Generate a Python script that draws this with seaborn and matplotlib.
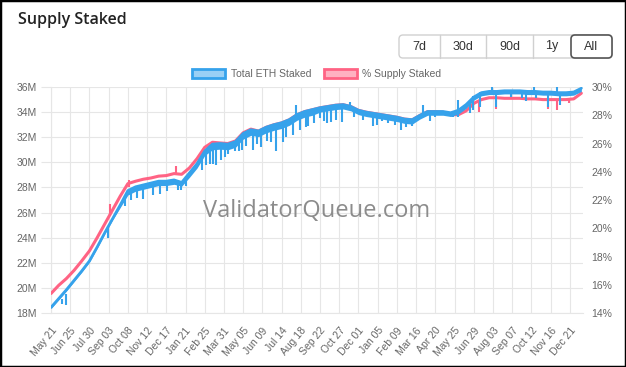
import pandas as pd
import matplotlib.pyplot as plt
import seaborn as sns
from matplotlib.patches import Patch, Rectangle, FancyBboxPatch
from matplotlib.transforms import IdentityTransform

# Colours used by the original chart
BLUE = '#36A2EB'
PINK = '#FF6384'
GRID = '#e6e6e6'
TEXT = '#666666'

# Sampled every 14 days starting 2023-05-21
start_date = '2023-05-21'
# top of the blue band (millions of ETH)
staked_m = [18.45, 19.15, 19.85, 20.6, 21.35, 22.15, 23.25, 24.4, 25.5, 26.6,
            27.75, 28.05, 28.2, 28.35, 28.5, 28.5, 28.6, 28.4, 29.15, 29.9,
            30.9, 31.45, 31.5, 31.45, 31.65, 32.3, 32.6, 32.5, 32.8, 33.0,
            33.15, 33.4, 33.8, 34.05, 34.2, 34.35, 34.45, 34.55, 34.6, 34.45,
            34.15, 34.0, 33.9, 33.8, 33.7, 33.6, 33.45, 33.4, 33.75, 34.05,
            34.05, 34.05, 33.95, 34.15, 34.6, 35.2, 35.55, 35.65, 35.65, 35.7,
            35.7, 35.7, 35.65, 35.65, 35.6, 35.6, 35.55, 35.55, 35.6, 35.9]
# bottom of the dense daily noise band
staked_low = [18.35, 19.05, 19.75, 20.5, 21.25, 22.05, 23.15, 24.3, 25.4, 26.4,
              27.4, 27.7, 27.85, 28.0, 28.15, 28.15, 28.25, 28.1, 28.8, 29.55,
              30.55, 31.0, 31.05, 31.0, 31.2, 31.85, 32.15, 32.05, 32.35, 32.55,
              32.7, 32.95, 33.35, 33.6, 33.75, 34.0, 34.1, 34.2, 34.25, 34.1,
              33.8, 33.65, 33.55, 33.45, 33.35, 33.25, 33.1, 33.05, 33.45, 33.75,
              33.75, 33.75, 33.65, 33.85, 34.3, 34.95, 35.3, 35.4, 35.4, 35.45,
              35.45, 35.45, 35.4, 35.4, 35.35, 35.35, 35.3, 35.3, 35.35, 35.65]
supply_pct = [15.38, 15.96, 16.44, 17.02, 17.69, 18.4, 19.33, 20.31, 21.29, 22.27,
              23.16, 23.33, 23.47, 23.56, 23.69, 23.73, 23.87, 23.82, 24.27, 24.93,
              25.73, 26.09, 26.04, 26.0, 26.18, 26.76, 27.02, 26.88, 27.15, 27.33,
              27.46, 27.68, 28.04, 28.26, 28.39, 28.53, 28.62, 28.71, 28.75, 28.62,
              28.35, 28.22, 28.13, 28.04, 27.95, 27.86, 27.73, 27.68, 27.99, 28.26,
              28.26, 28.22, 28.04, 28.04, 28.31, 28.84, 29.11, 29.24, 29.24, 29.2,
              29.2, 29.2, 29.16, 29.16, 29.11, 29.11, 29.11, 29.11, 29.16, 29.56]

# Short daily spikes (date, low, high) seen in the picture
blue_spike_dates = ['2023-06-10', '2023-06-17', '2023-09-01', '2023-10-03', '2023-10-14',
                    '2023-10-25', '2023-11-04', '2023-11-23', '2023-12-05', '2023-12-19',
                    '2024-01-08', '2024-01-13', '2024-01-22', '2024-02-20', '2024-02-28',
                    '2024-03-06', '2024-03-11', '2024-03-16', '2024-03-26', '2024-04-02',
                    '2024-04-08', '2024-04-20', '2024-04-28', '2024-05-03', '2024-05-11',
                    '2024-05-23', '2024-05-30', '2024-06-07', '2024-06-18', '2024-06-25',
                    '2024-07-04', '2024-07-16', '2024-07-22', '2024-08-03', '2024-08-10',
                    '2024-08-17', '2024-08-27', '2024-09-01', '2024-09-11', '2024-09-22',
                    '2024-09-30', '2024-10-04', '2024-10-12', '2024-10-22', '2024-11-01',
                    '2024-11-15', '2024-11-22', '2024-12-10', '2024-12-28', '2025-01-03',
                    '2025-01-12', '2025-01-24', '2025-02-05', '2025-02-17', '2025-02-26',
                    '2025-03-08', '2025-03-28', '2025-04-10', '2025-04-20', '2025-05-22',
                    '2025-05-31', '2025-06-01', '2025-06-22', '2025-06-28', '2025-07-10',
                    '2025-08-01', '2025-08-09', '2025-09-05', '2025-09-25', '2025-10-02',
                    '2025-10-17', '2025-10-21', '2025-11-11', '2025-11-28', '2025-12-03']
blue_spike_low = [18.7, 18.6, 24.0, 26.5, 27.0, 27.2, 27.1, 27.4, 27.5, 27.7,
                  27.8, 27.8, 28.1, 29.4, 29.8, 29.9, 29.9, 29.8, 30.2, 30.4,
                  30.7, 30.9, 30.9, 31.0, 31.3, 31.0, 31.5, 31.2, 31.7, 31.6,
                  30.9, 31.6, 32.0, 32.2, 33.7, 32.6, 32.8, 32.9, 33.1, 33.5,
                  33.3, 33.15, 33.2, 33.4, 33.25, 34.3, 33.6, 33.4, 32.9, 33.0,
                  33.3, 33.15, 33.0, 32.6, 32.8, 32.9, 33.7, 33.3, 33.6, 33.6,
                  33.65, 34.1, 33.9, 34.2, 34.4, 35.6, 34.4, 35.2, 35.1, 34.9,
                  35.65, 35.1, 34.4, 35.55, 34.6]
blue_spike_high = [19.1, 19.5, 24.9, 27.4, 27.9, 28.1, 28.2, 28.4, 28.5, 28.5,
                   28.6, 28.5, 28.9, 30.5, 31.0, 31.4, 31.4, 31.5, 31.5, 31.5,
                   31.5, 31.6, 31.9, 32.1, 32.4, 32.6, 32.5, 32.5, 32.7, 32.8,
                   33.0, 33.1, 33.2, 33.6, 34.6, 33.9, 34.0, 34.1, 34.2, 34.3,
                   34.4, 34.4, 34.5, 34.5, 34.6, 34.8, 34.3, 34.0, 33.85, 33.8,
                   33.75, 33.7, 33.65, 33.5, 33.45, 33.4, 34.6, 34.05, 34.05, 34.0,
                   34.1, 35.0, 35.0, 35.3, 35.6, 36.1, 35.65, 35.7, 35.7, 35.7,
                   36.2, 35.65, 35.6, 36.1, 35.55]
pink_spike_dates = ['2023-09-05', '2023-10-10', '2024-01-04', '2025-07-08',
                    '2025-08-09', '2025-11-11', '2025-11-28', '2025-12-20']
pink_spike_low = [20.9, 22.9, 23.8, 28.2, 28.45, 28.45, 28.4, 28.9]
pink_spike_high = [21.7, 23.4, 24.4, 29.1, 29.25, 29.1, 29.1, 29.2]

left_ticks = [18, 20, 22, 24, 26, 28, 30, 32, 34, 36]
right_ticks = [14, 16, 18, 20, 22, 24, 26, 28, 30]
btn_labels = ['7d', '30d', '90d', '1y', 'All']

dates = pd.date_range(start_date, periods=len(staked_m), freq='14D')
df = pd.DataFrame({'date': dates, 'staked': staked_m, 'low': staked_low, 'pct': supply_pct})
tick_dates = pd.date_range(start_date, periods=28, freq='35D')

sns.set_style('white')
plt.rcParams['font.family'] = ['Liberation Sans', 'DejaVu Sans']

fig = plt.figure(figsize=(6.26, 3.67), dpi=100)
ax = fig.add_axes([0.0815, 0.1471, 0.8498, 0.6158])
ax2 = ax.twinx()   # % supply axis
ax3 = ax.twinx()   # blue series drawn on top of the pink one

sns.lineplot(data=df, x='date', y='pct', ax=ax2, color=PINK, lw=2.2, estimator=None)
ax2.vlines(pd.to_datetime(pink_spike_dates), pink_spike_low, pink_spike_high, color=PINK, lw=1.5)
ax3.fill_between(df['date'], df['low'], df['staked'], color=BLUE, lw=0)
sns.lineplot(data=df, x='date', y='staked', ax=ax3, color=BLUE, lw=2.0, estimator=None)
ax3.vlines(pd.to_datetime(blue_spike_dates), blue_spike_low, blue_spike_high, color=BLUE, lw=1.5)

ax.set_xlim(pd.Timestamp('2023-05-21'), pd.Timestamp('2026-01-14'))
ax.set_ylim(18, 36)
ax3.set_ylim(18, 36)
ax2.set_ylim(14, 30)
ax3.axis('off')

ax.set_yticks(left_ticks)
ax.set_yticklabels([f'{v}M' for v in left_ticks])
ax2.set_yticks(right_ticks)
ax2.set_yticklabels([f'{v}%' for v in right_ticks])
ax.set_xticks(tick_dates)
ax.set_xticklabels([d.strftime('%b %d') for d in tick_dates], rotation=50,
                   ha='right', rotation_mode='anchor')
for a in (ax, ax2):
    a.set_xlabel('')
    a.set_ylabel('')

ax.grid(True, color=GRID, lw=0.8)
ax.tick_params(axis='both', length=7, color=GRID, labelcolor=TEXT, labelsize=7.5, pad=3)
ax.tick_params(axis='x', pad=2)
ax2.tick_params(axis='y', length=0, labelcolor=TEXT, labelsize=7.5, pad=6)
for s in ['top', 'right']:
    ax.spines[s].set_visible(False)
for s in ['left', 'bottom']:
    ax.spines[s].set_color(GRID)
for s in ax2.spines.values():
    s.set_visible(False)

# watermark
ax.text(0.5, 0.45, 'ValidatorQueue.com', transform=ax.transAxes, ha='center', va='center',
        fontsize=17, color='#8c8c8c', family='Open Sans')

# legend
handles = [Patch(facecolor='#9AD0F5', edgecolor=BLUE, lw=2, label='Total ETH Staked'),
           Patch(facecolor='#FFB1C1', edgecolor=PINK, lw=2, label='% Supply Staked')]
leg = fig.legend(handles=handles, loc='center', bbox_to_anchor=(0.506, 0.798), ncol=2,
                 frameon=False, fontsize=7.5, handlelength=3.2, handleheight=0.9,
                 columnspacing=1.2, handletextpad=0.5)
for t in leg.get_texts():
    t.set_color(TEXT)

# title
fig.text(18 / 626, 1 - 20 / 367, 'Supply Staked', fontsize=11.5, fontweight='semibold',
         family='Open Sans', va='center', color='#222222')

# range buttons (pixel coordinates)
edges = [399, 440, 486, 533, 571, 612]
top, bot = 367 - 35, 367 - 58
fig.patches.append(FancyBboxPatch((edges[0], bot), edges[-1] - edges[0], top - bot,
                                  boxstyle='round,pad=0,rounding_size=4', transform=IdentityTransform(),
                                  facecolor='white', edgecolor='#d0d0d0', lw=1))
for x in edges[1:-2]:
    fig.lines.append(plt.Line2D([x, x], [bot, top], transform=IdentityTransform(), color='#d0d0d0', lw=1))
fig.patches.append(FancyBboxPatch((edges[-2], bot), edges[-1] - edges[-2], top - bot,
                                  boxstyle='round,pad=0,rounding_size=4', transform=IdentityTransform(),
                                  facecolor='white', edgecolor='#555555', lw=1.2))
for i, lab in enumerate(btn_labels):
    fig.text((edges[i] + edges[i + 1]) / 2 / 626, (top + bot) / 2 / 367, lab,
             ha='center', va='center', fontsize=9, color='#333333')

# outer frame
fig.patches.append(Rectangle((0, 0), 1, 1, transform=fig.transFigure, fill=False,
                             edgecolor='black', lw=2.5))

fig.savefig('out.png', dpi=100)
